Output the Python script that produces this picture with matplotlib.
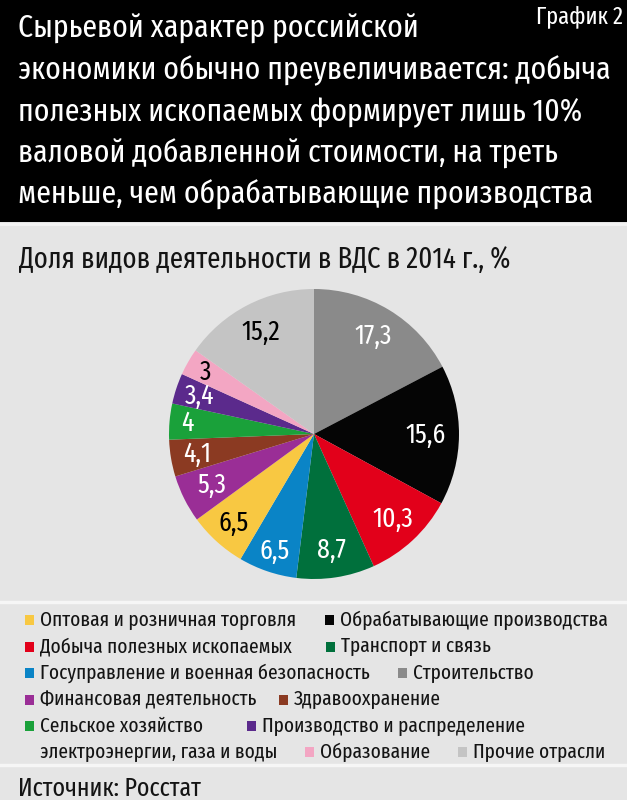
import matplotlib
matplotlib.use("Agg")
import numpy as np
import matplotlib.pyplot as plt
from matplotlib.patches import Rectangle
from matplotlib.lines import Line2D

# ---------------- data ----------------
categories = [
    "Строительство",
    "Обрабатывающие производства",
    "Добыча полезных ископаемых",
    "Транспорт и связь",
    "Госуправление и военная безопасность",
    "Оптовая и розничная торговля",
    "Финансовая деятельность",
    "Здравоохранение",
    "Сельское хозяйство",
    "Производство и распределение электроэнергии, газа и воды",
    "Образование",
    "Прочие отрасли",
]
values = [17.3, 15.6, 10.3, 8.7, 6.5, 6.5, 5.3, 4.1, 4.0, 3.4, 3.0, 15.2]
colors = ["#8a8a8a", "#050505", "#e2001a", "#00703c", "#0a84c6", "#f8c842",
          "#9a2e96", "#8b3a22", "#1aa13a", "#5b2a8c", "#f3a6c3", "#c4c4c4"]
label_colors = ["white", "white", "white", "white", "white", "black",
                "white", "white", "white", "white", "black", "black"]

title_lines = [
    "Сырьевой характер российской",
    "экономики обычно преувеличивается: добыча",
    "полезных ископаемых формирует лишь 10%",
    "валовой добавленной стоимости, на треть",
    "меньше, чем обрабатывающие производства",
]
chart_no = "График 2"
subtitle = "Доля видов деятельности в ВДС в 2014 г., %"
source = "Источник: Росстат"

# legend layout: rows of (text, square x in px; None = continuation line)
legend_rows = [
    [("Оптовая и розничная торговля", 25), ("Обрабатывающие производства", 325)],
    [("Добыча полезных ископаемых", 25), ("Транспорт и связь", 326)],
    [("Госуправление и военная безопасность", 25), ("Строительство", 398)],
    [("Финансовая деятельность", 25), ("Здравоохранение", 279)],
    [("Сельское хозяйство", 25), ("Производство и распределение", 247)],
    [("электроэнергии, газа и воды", None), ("Образование", 305), ("Прочие отрасли", 458)],
]
legend_color_key = {
    "Производство и распределение": "Производство и распределение электроэнергии, газа и воды",
}

# ---------------- style ----------------
FONT = ["Fira Sans Extra Condensed", "DejaVu Sans"]
plt.rcParams["font.family"] = FONT
W, H = 627, 800
BG = "#e5e5e5"
INK = "#141414"

fig = plt.figure(figsize=(W / 100, H / 100), dpi=100, facecolor=BG)


def fx(x):
    return x / W


def fy(y):
    return 1 - y / H


# header
fig.patches.append(Rectangle((0, fy(222)), 1, 222 / H, transform=fig.transFigure,
                             facecolor="black", edgecolor="none", zorder=0))
fig.lines.append(Line2D([0, 1], [fy(224), fy(224)], transform=fig.transFigure,
                        color="#f4f4f4", lw=2))
for i, line in enumerate(title_lines):
    fig.text(fx(18), fy(38 + i * 41.5), line, color="white", fontsize=23.2,
             va="baseline", ha="left")
fig.text(fx(623), fy(23), chart_no, color="white", fontsize=17.5,
         va="baseline", ha="right")

# subtitle
fig.text(fx(19), fy(268), subtitle, color=INK, fontsize=21, va="baseline", ha="left")

# pie
cx, cy, R = 314, 434, 145
ax = fig.add_axes([fx(cx - R), fy(cy + R), 2 * R / W, 2 * R / H])
wedges, _ = ax.pie(values, colors=colors, startangle=90, counterclock=False,
                   radius=1, wedgeprops=dict(linewidth=0))
ax.set_xlim(-1, 1)
ax.set_ylim(-1, 1)
ax.set_aspect("equal")
ax.axis("off")

label_r = [0.79, 0.77, 0.80, 0.81, 0.85, 0.83, 0.79, 0.82, 0.88, 0.83, 0.86, 0.79]
for w, v, c, r in zip(wedges, values, label_colors, label_r):
    mid = np.deg2rad((w.theta1 + w.theta2) / 2)
    txt = f"{v:g}".replace(".", ",")
    ax.text(r * np.cos(mid), r * np.sin(mid), txt, color=c, fontsize=20,
            ha="center", va="center")

# legend
fig.lines.append(Line2D([0, 1], [fy(601.5), fy(601.5)], transform=fig.transFigure,
                        color="#f6f6f6", lw=2.5))
fig.lines.append(Line2D([0, 1], [fy(765), fy(765)], transform=fig.transFigure,
                        color="#f6f6f6", lw=2.5))
color_of = dict(zip(categories, colors))
row_y = [620, 646.5, 673, 699.5, 726, 752]
sq_w, sq_h = 9, 10
for yy, row in zip(row_y, legend_rows):
    for name, x in row:
        if x is None:
            fig.text(fx(40), fy(yy), name, color=INK, fontsize=15.1,
                     va="center", ha="left")
            continue
        key = legend_color_key.get(name, name)
        fig.patches.append(Rectangle((fx(x), fy(yy + sq_h / 2)), sq_w / W, sq_h / H,
                                     transform=fig.transFigure,
                                     facecolor=color_of[key], edgecolor="none"))
        fig.text(fx(x + 15), fy(yy), name, color=INK, fontsize=15.1,
                 va="center", ha="left")

fig.text(fx(18), fy(796), source, color=INK, fontsize=18.8, va="baseline", ha="left")

fig.savefig("out.png", dpi=100, facecolor=BG)
